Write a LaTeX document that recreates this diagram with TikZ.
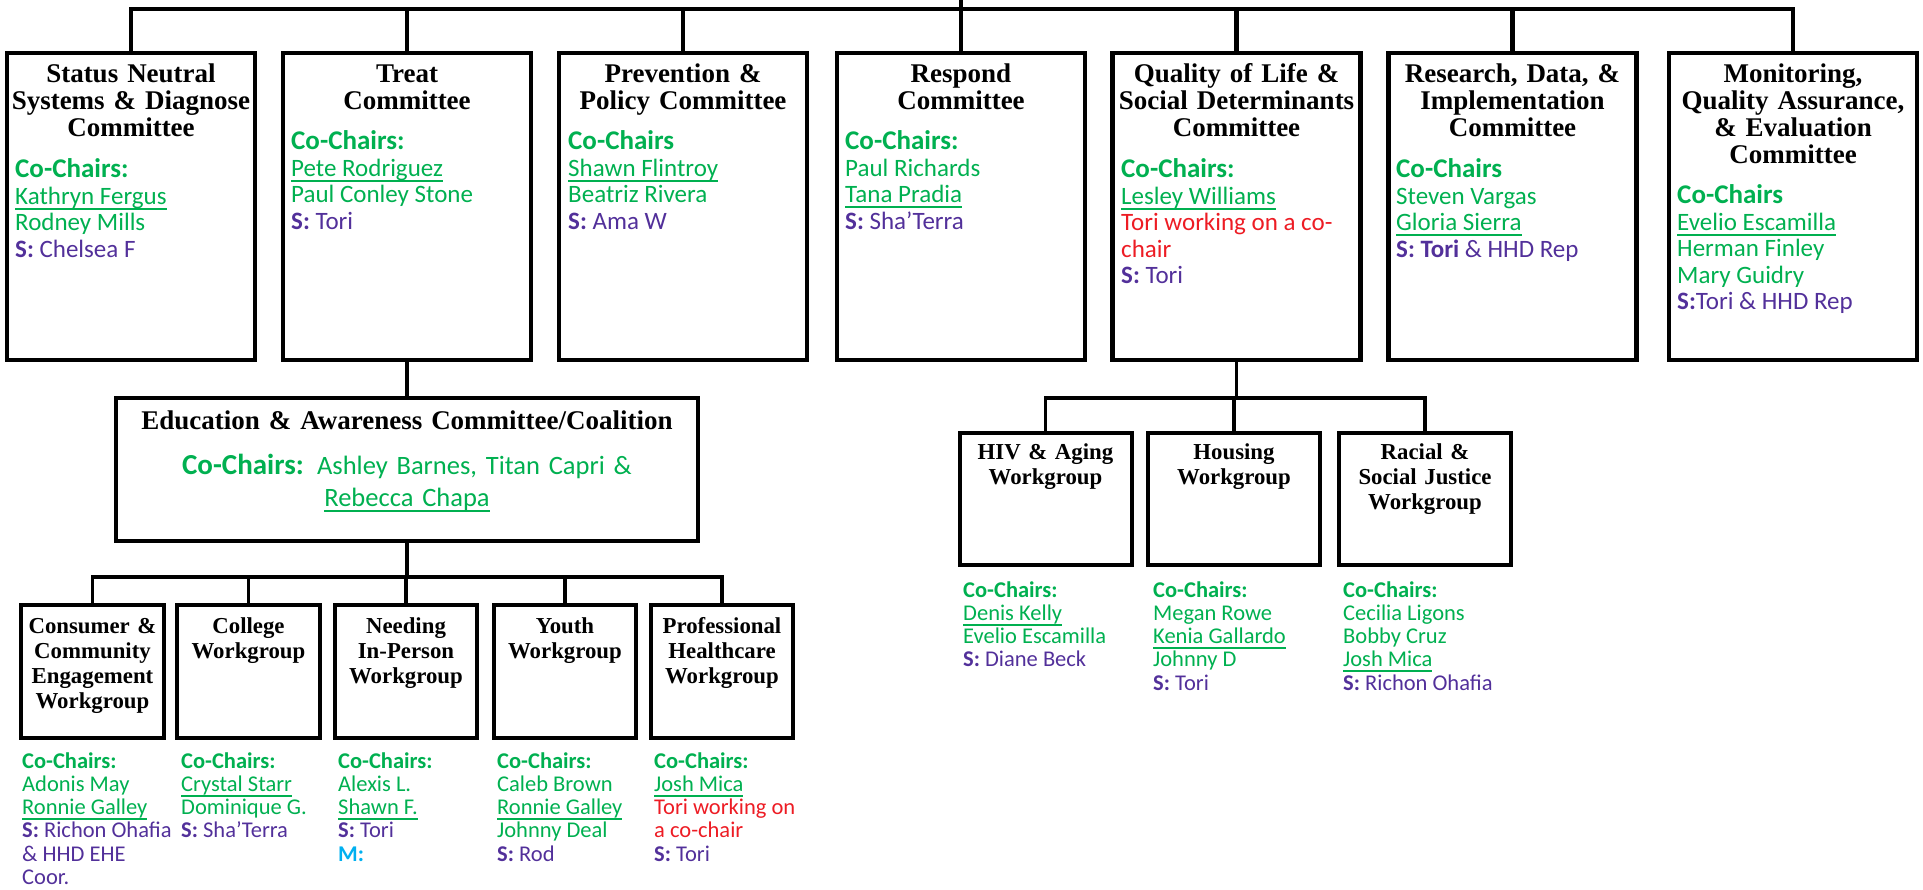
\documentclass[tikz,border=0pt]{standalone}
\usepackage{fontspec}
\setmainfont{Carlito}
\newfontfamily\tnr{Liberation Serif}
\definecolor{cgreen}{HTML}{00B050}
\definecolor{cpurple}{HTML}{52309A}
\definecolor{cred}{HTML}{ED1C24}
\definecolor{ccyan}{HTML}{00B0F0}
\lineskiplimit=-50pt
\newcommand{\hd}[1]{{\fontsize{27}{26.5}\selectfont\bfseries #1}}
\newcommand{\un}[1]{\leavevmode\setbox0\hbox{#1}\rlap{\rule[-5.5pt]{\wd0}{2.2pt}}\box0}
\newcommand{\stf}[1]{{\color{cpurple}\textbf{S:} #1}}
\newcommand{\rd}[1]{{\color{cred}#1}}
\tikzset{
 topbox/.style={draw, line width=4.6pt, minimum width=248pt, minimum height=307pt, inner sep=0pt},
 edubox/.style={draw, line width=4.6pt, minimum width=582pt, minimum height=143pt, inner sep=0pt},
 wbox/.style={draw, line width=4pt, minimum width=142.5pt, minimum height=133.5pt, inner sep=0pt},
 rbox/.style={draw, line width=4pt, minimum width=172pt, minimum height=132.5pt, inner sep=0pt},
 conn/.style={line width=4.4pt},
 conn2/.style={line width=3.6pt},
 ttl/.style={font=\tnr\bfseries\fontsize{27}{27}\selectfont, align=center, inner sep=0pt, anchor=base, text width=262pt},
 sttl/.style={font=\tnr\bfseries\fontsize{22.8}{25}\selectfont, align=center, inner sep=0pt, anchor=base, text width=170pt},
 bdy/.style={font=\fontsize{25}{26.5}\selectfont, align=flush left, inner sep=0pt, anchor=base west, text width=260pt, text=cgreen},
 ebdy/.style={font=\fontsize{26.5}{32}\selectfont, align=center, inner sep=0pt, anchor=base, text width=580pt, text=cgreen},
 sbdy/.style={font=\fontsize{22.5}{23.3}\selectfont, align=flush left, inner sep=0pt, anchor=base west, text width=200pt, text=cgreen},
}
\begin{document}
\begin{tikzpicture}[x=1pt,y=-1pt]
\useasboundingbox (0,0) rectangle (1923,890);
% top level boxes
\node[topbox] (status) at (131,206.5) {};
\node[topbox] (treat) at (407,206.5) {};
\node[topbox] (prev) at (683,206.5) {};
\node[topbox] (resp) at (961,206.5) {};
\node[topbox] (qual) at (1236.5,206.5) {};
\node[topbox] (res) at (1512.5,206.5) {};
\node[topbox] (mon) at (1793,206.5) {};
% connectors top
\coordinate (root) at (961,0);
\coordinate (bus) at (961,9);
\draw[conn] (status.north) |- (bus) -| (mon.north);
\draw[conn] (root) -- (resp.north);
\draw[conn] (treat.north) -- (treat.north |- bus);
\draw[conn] (prev.north) -- (prev.north |- bus);
\draw[conn] (qual.north) -- (qual.north |- bus);
\draw[conn] (res.north) -- (res.north |- bus);
% titles
\node[ttl] (statusT) at (131,83) {Status Neutral\\Systems \& Diagnose\\Committee};
\node[ttl] (treatT) at (407,83) {Treat\\Committee};
\node[ttl] (prevT) at (683,83) {Prevention \&\\Policy Committee};
\node[ttl] (respT) at (961,83) {Respond\\Committee};
\node[ttl] (qualT) at (1236.5,83) {Quality of Life \&\\Social Determinants\\Committee};
\node[ttl] (resT) at (1512.5,83) {Research, Data, \&\\Implementation\\Committee};
\node[ttl] (monT) at (1793,83) {Monitoring,\\Quality Assurance,\\\& Evaluation\\Committee};
% bodies
\node[bdy] (statusB) at (15,178) {\hd{Co-Chairs:}\\\un{Kathryn Fergus}\\Rodney Mills\\\stf{Chelsea F}};
\node[bdy] (treatB) at (291,150) {\hd{Co-Chairs:}\\\un{Pete Rodriguez}\\Paul Conley Stone\\\stf{Tori}};
\node[bdy] (prevB) at (568,150) {\hd{Co-Chairs}\\\un{Shawn Flintroy}\\Beatriz Rivera\\\stf{Ama W}};
\node[bdy] (respB) at (845,150) {\hd{Co-Chairs:}\\Paul Richards\\\un{Tana Pradia}\\\stf{Sha’Terra}};
\node[bdy] (qualB) at (1121,178) {\hd{Co-Chairs:}\\\un{Lesley Williams}\\\rd{Tori working on a co-}\\\rd{chair}\\\stf{Tori}};
\node[bdy] (resB) at (1396,178) {\hd{Co-Chairs}\\Steven Vargas\\\un{Gloria Sierra}\\{\color{cpurple}\textbf{S: Tori} \& HHD Rep}};
\node[bdy] (monB) at (1677,204) {\hd{Co-Chairs}\\\un{Evelio Escamilla}\\Herman Finley\\Mary Guidry\\{\color{cpurple}\textbf{S:}Tori \& HHD Rep}};
% education
\node[edubox] (edu) at (407,469.5) {};
\draw[conn] (treat.south) -- (edu.north);
\node[ttl, text width=580pt] (eduT) at (407,430) {Education \& Awareness Committee/Coalition};
\node[ebdy] (eduB) at (407,475) {{\fontsize{29}{32}\selectfont\bfseries Co-Chairs:} Ashley Barnes, Titan Capri \&\\\un{Rebecca Chapa}};
% workgroups under education
\node[wbox] (cons) at (92.5,671.5) {};
\node[wbox] (coll) at (248.5,671.5) {};
\node[wbox] (need) at (406,671.5) {};
\node[wbox] (youth) at (565,671.5) {};
\node[wbox] (prof) at (722,671.5) {};
\coordinate (ebus) at (407,577);
\draw[conn2] (cons.north) |- (ebus) -| (prof.north);
\draw[conn2] (edu.south) -- (edu.south |- ebus);
\draw[conn2] (coll.north) -- (coll.north |- ebus);
\draw[conn2] (need.north) -- (need.north |- ebus);
\draw[conn2] (youth.north) -- (youth.north |- ebus);
\node[sttl] (consT) at (92.5,633) {Consumer \&\\Community\\Engagement\\Workgroup};
\node[sttl] (collT) at (248.5,633) {College\\Workgroup};
\node[sttl] (needT) at (406,633) {Needing\\In-Person\\Workgroup};
\node[sttl] (youthT) at (565,633) {Youth\\Workgroup};
\node[sttl] (profT) at (722,633) {Professional\\Healthcare\\Workgroup};
\node[sbdy] (consB) at (22,768) {\textbf{Co-Chairs:}\\Adonis May\\\un{Ronnie Galley}\\\stf{Richon Ohafia}\\{\color{cpurple}\& HHD EHE}\\{\color{cpurple}Coor.}};
\node[sbdy] (collB) at (181,768) {\textbf{Co-Chairs:}\\\un{Crystal Starr}\\Dominique G.\\\stf{Sha’Terra}};
\node[sbdy] (needB) at (338,768) {\textbf{Co-Chairs:}\\Alexis L.\\\un{Shawn F.}\\\stf{Tori}\\{\color{ccyan}\textbf{M:}}};
\node[sbdy] (youthB) at (497,768) {\textbf{Co-Chairs:}\\Caleb Brown\\\un{Ronnie Galley}\\Johnny Deal\\\stf{Rod}};
\node[sbdy] (profB) at (654,768) {\textbf{Co-Chairs:}\\\un{Josh Mica}\\\rd{Tori working on}\\\rd{a co-chair}\\\stf{Tori}};
% workgroups under quality of life
\node[rbox] (hiv) at (1045.5,499) {};
\node[rbox] (hous) at (1234,499) {};
\node[rbox] (race) at (1425,499) {};
\coordinate (qbus) at (1236.5,398);
\draw[conn2] (hiv.north) |- (qbus) -| (race.north);
\draw[conn2] (qual.south) -- (qual.south |- qbus);
\draw[conn2] (hous.north) -- (hous.north |- qbus);
\node[sttl] (hivT) at (1045.5,460) {HIV \& Aging\\Workgroup};
\node[sttl] (housT) at (1234,460) {Housing\\Workgroup};
\node[sttl] (raceT) at (1425,460) {Racial \&\\Social Justice\\Workgroup};
\node[sbdy] (hivB) at (963,597) {\textbf{Co-Chairs:}\\\un{Denis Kelly}\\Evelio Escamilla\\\stf{Diane Beck}};
\node[sbdy] (housB) at (1153,597) {\textbf{Co-Chairs:}\\Megan Rowe\\\un{Kenia Gallardo}\\Johnny D\\\stf{Tori}};
\node[sbdy] (raceB) at (1343,597) {\textbf{Co-Chairs:}\\Cecilia Ligons\\Bobby Cruz\\\un{Josh Mica}\\\stf{Richon Ohafia}};
\end{tikzpicture}
\end{document}
